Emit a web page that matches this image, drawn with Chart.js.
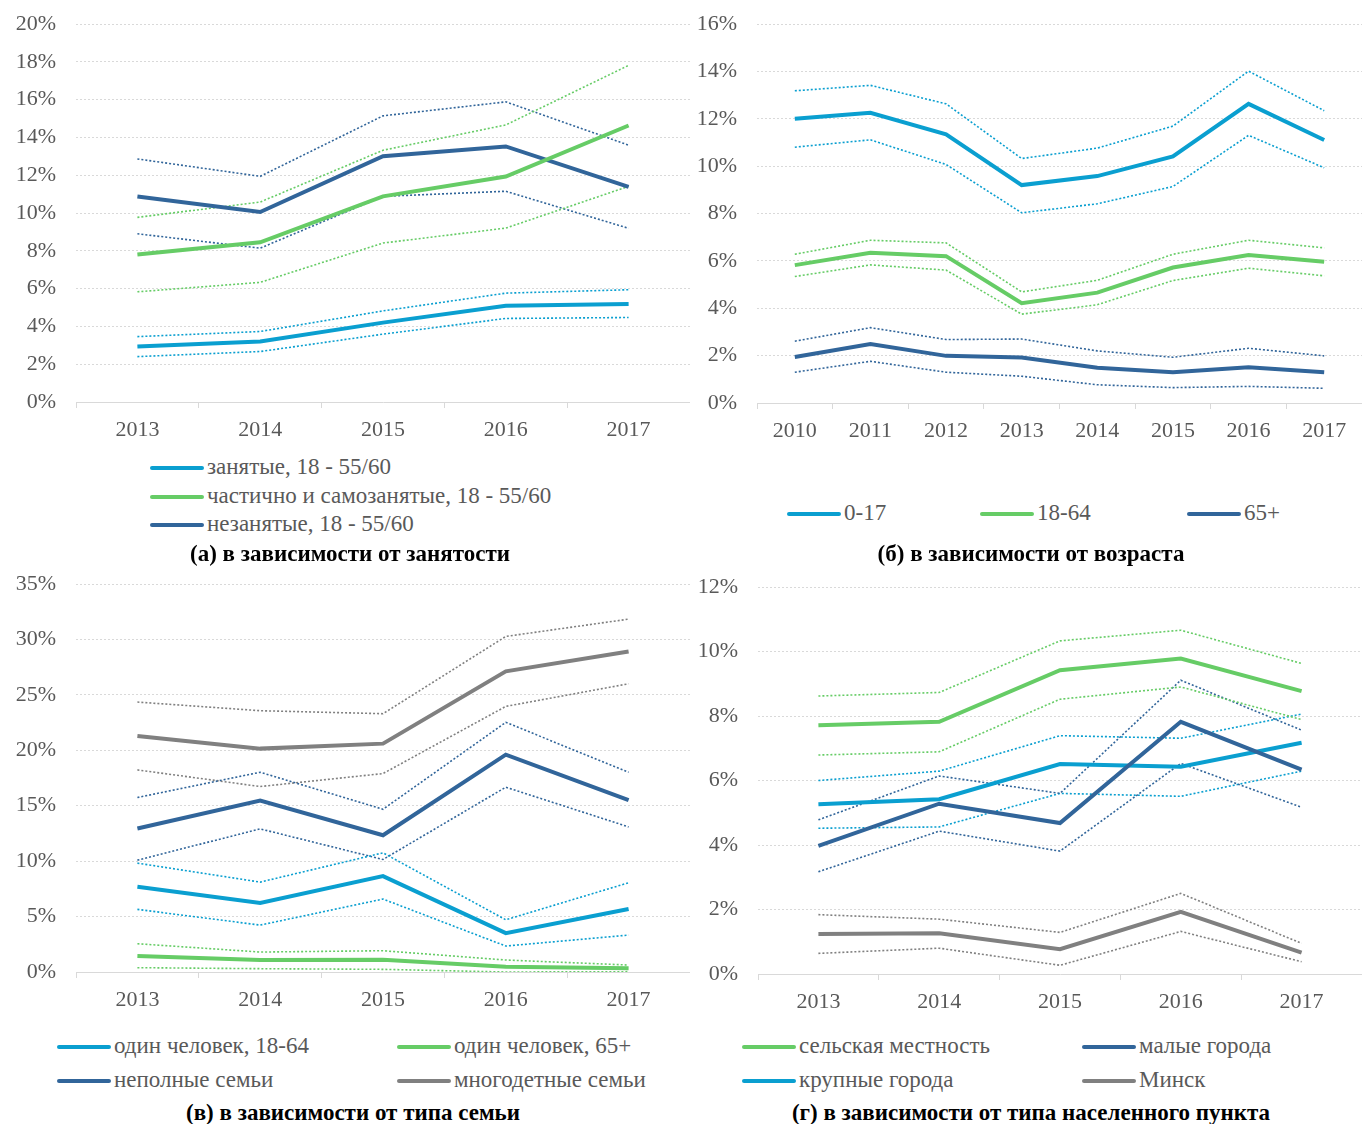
<!DOCTYPE html>
<html>
<head>
<meta charset="utf-8">
<script src="https://cdn.jsdelivr.net/npm/chart.js@4.4.0/dist/chart.umd.min.js"></script>
<style>
body{margin:0;background:#fff;width:1362px;height:1124px;position:relative;overflow:hidden;font-family:'Liberation Serif',serif;}
canvas{position:absolute}
.leg{position:absolute;font-size:23px;color:#595959;white-space:nowrap;line-height:24px;height:24px}
.leg i{display:inline-block;width:54px;height:4px;border-radius:2px;vertical-align:middle;margin-right:3px;position:relative;top:-1px}
.ttl{position:absolute;font-weight:bold;font-size:23px;color:#000;transform:translateX(-50%);white-space:nowrap;line-height:24px}
</style>
</head>
<body>
<canvas id="chA" width="690" height="450" style="left:0;top:0"></canvas>
<canvas id="chB" width="682" height="451" style="left:680px;top:0"></canvas>
<canvas id="chC" width="690" height="460" style="left:0;top:560px"></canvas>
<canvas id="chD" width="682" height="462" style="left:680px;top:560px"></canvas>
<div id="legends"></div>
<div class="ttl" style="left:350px;top:542px">(а) в зависимости от занятости</div>
<div class="ttl" style="left:1031px;top:542px">(б) в зависимости от возраста</div>
<div class="ttl" style="left:353px;top:1101px">(в) в зависимости от типа семьи</div>
<div class="ttl" style="left:1031px;top:1101px">(г) в зависимости от типа населенного пункта</div>
<script>
const LIGHT = '#0a9fd0', GREEN = '#66cc66', DARK = '#31659a', GREY = '#808080';

// (а) занятость
const yearsShort = ['2013', '2014', '2015', '2016', '2017'];
const empMain = [2.93, 3.20, 4.20, 5.09, 5.19];
const empHi = [3.46, 3.73, 4.82, 5.76, 5.94];
const empLo = [2.40, 2.67, 3.59, 4.42, 4.47];
const partMain = [7.81, 8.45, 10.88, 11.93, 14.63];
const partHi = [9.77, 10.58, 13.32, 14.66, 17.81];
const partLo = [5.83, 6.33, 8.41, 9.20, 11.41];
const unempMain = [10.87, 10.05, 13.00, 13.52, 11.38];
const unempHi = [12.86, 11.94, 15.14, 15.88, 13.59];
const unempLo = [8.90, 8.14, 10.88, 11.15, 9.19];

// (б) возраст
const yearsLong = ['2010', '2011', '2012', '2013', '2014', '2015', '2016', '2017'];
const kidsMain = [12.00, 12.25, 11.34, 9.20, 9.58, 10.41, 12.63, 11.10];
const kidsHi = [13.18, 13.41, 12.63, 10.32, 10.76, 11.69, 14.01, 12.34];
const kidsLo = [10.80, 11.11, 10.07, 8.03, 8.41, 9.14, 11.30, 9.93];
const adultMain = [5.82, 6.34, 6.20, 4.21, 4.66, 5.72, 6.25, 5.96];
const adultHi = [6.28, 6.87, 6.76, 4.69, 5.18, 6.28, 6.87, 6.55];
const adultLo = [5.34, 5.83, 5.61, 3.75, 4.15, 5.17, 5.69, 5.37];
const oldMain = [1.94, 2.49, 1.99, 1.92, 1.49, 1.30, 1.51, 1.30];
const oldHi = [2.61, 3.18, 2.68, 2.70, 2.20, 1.93, 2.31, 1.99];
const oldLo = [1.30, 1.76, 1.30, 1.13, 0.77, 0.65, 0.70, 0.62];

// (в) тип семьи
const singleMain = [7.69, 6.22, 8.65, 3.51, 5.68];
const singleHi = [9.82, 8.11, 10.75, 4.71, 8.05];
const singleLo = [5.65, 4.23, 6.58, 2.34, 3.33];
const single65Main = [1.44, 1.08, 1.11, 0.48, 0.33];
const single65Hi = [2.55, 1.80, 1.92, 1.08, 0.63];
const single65Lo = [0.39, 0.30, 0.24, 0.00, 0.03];
const oneParMain = [12.94, 15.47, 12.34, 19.61, 15.50];
const oneParHi = [15.74, 18.02, 14.68, 22.52, 18.02];
const oneParLo = [10.09, 12.91, 10.15, 16.67, 13.09];
const largeMain = [21.29, 20.15, 20.60, 27.12, 28.92];
const largeHi = [24.35, 23.57, 23.30, 30.27, 31.83];
const largeLo = [18.23, 16.73, 17.90, 23.96, 26.00];

// (г) тип населенного пункта
const ruralMain = [7.71, 7.82, 9.42, 9.78, 8.77];
const ruralHi = [8.62, 8.73, 10.33, 10.66, 9.63];
const ruralLo = [6.79, 6.89, 8.52, 8.90, 7.89];
const smallMain = [3.97, 5.28, 4.68, 7.82, 6.34];
const smallHi = [4.78, 6.14, 5.60, 9.11, 7.56];
const smallLo = [3.17, 4.43, 3.81, 6.53, 5.17];
const bigMain = [5.26, 5.42, 6.51, 6.43, 7.17];
const bigHi = [6.00, 6.29, 7.39, 7.31, 8.06];
const bigLo = [4.52, 4.56, 5.60, 5.51, 6.29];
const minskMain = [1.24, 1.26, 0.77, 1.93, 0.66];
const minskHi = [1.84, 1.70, 1.29, 2.50, 0.95];
const minskLo = [0.64, 0.80, 0.27, 1.32, 0.38];

function trio(label, color, main, hi, lo) {
    const ci = {borderColor: color, borderWidth: 1.6, borderDash: [2, 2], pointRadius: 0, fill: false, order: 2};
    return [
        {label: label, data: main, borderColor: color, borderWidth: 4, pointRadius: 0, fill: false, order: 1},
        Object.assign({label: label + ' верх', data: hi}, ci),
        Object.assign({label: label + ' низ', data: lo}, ci),
    ];
}

function panel(id, labels, sets, yMax, step, leftW, padTop) {
    new Chart(document.getElementById(id), {
        type: 'line',
        data: {labels: labels, datasets: sets},
        options: {
            responsive: false,
            animation: false,
            devicePixelRatio: 1,
            layout: {padding: {top: padTop, right: 0, bottom: 0, left: 0}},
            plugins: {legend: {display: false}, tooltip: {enabled: false}},
            scales: {
                x: {
                    offset: true,
                    grid: {display: true, drawOnChartArea: false, drawTicks: true, tickLength: 6, color: '#d9d9d9', offset: true},
                    border: {display: true, color: '#d9d9d9', width: 1},
                    ticks: {color: '#595959', padding: 9, font: {family: 'Liberation Serif', size: 22}},
                    afterFit: s => { s.height = 48; s.paddingLeft = 0; s.paddingRight = 0; }
                },
                y: {
                    min: 0, max: yMax,
                    grid: {color: '#d9d9d9', lineWidth: 1, drawTicks: false},
                    border: {display: false, dash: [2, 2]},
                    ticks: {stepSize: step, color: '#595959', padding: 20, font: {family: 'Liberation Serif', size: 22}, callback: v => v + '%'},
                    afterFit: s => { s.width = leftW; s.paddingTop = 0; s.paddingBottom = 0; }
                }
            }
        }
    });
}

panel('chA', yearsShort, [].concat(
    trio('занятые, 18 - 55/60', LIGHT, empMain, empHi, empLo),
    trio('частично и самозанятые, 18 - 55/60', GREEN, partMain, partHi, partLo),
    trio('незанятые, 18 - 55/60', DARK, unempMain, unempHi, unempLo)
), 20, 2, 76, 24);

panel('chB', yearsLong, [].concat(
    trio('0-17', LIGHT, kidsMain, kidsHi, kidsLo),
    trio('18-64', GREEN, adultMain, adultHi, adultLo),
    trio('65+', DARK, oldMain, oldHi, oldLo)
), 16, 2, 77, 24);

panel('chC', yearsShort, [].concat(
    trio('один человек, 18-64', LIGHT, singleMain, singleHi, singleLo),
    trio('один человек, 65+', GREEN, single65Main, single65Hi, single65Lo),
    trio('неполные семьи', DARK, oneParMain, oneParHi, oneParLo),
    trio('многодетные семьи', GREY, largeMain, largeHi, largeLo)
), 35, 5, 76, 24);

panel('chD', yearsShort, [].concat(
    trio('сельская местность', GREEN, ruralMain, ruralHi, ruralLo),
    trio('малые города', DARK, smallMain, smallHi, smallLo),
    trio('крупные города', LIGHT, bigMain, bigHi, bigLo),
    trio('Минск', GREY, minskMain, minskHi, minskLo)
), 12, 2, 78, 27);

// HTML legends: [label, color, x, y-center]
const legendItems = [
    ['занятые, 18 - 55/60', LIGHT, 150, 467],
    ['частично и самозанятые, 18 - 55/60', GREEN, 150, 496],
    ['незанятые, 18 - 55/60', DARK, 150, 524],
    ['0-17', LIGHT, 787, 513],
    ['18-64', GREEN, 980, 513],
    ['65+', DARK, 1187, 513],
    ['один человек, 18-64', LIGHT, 57, 1046],
    ['один человек, 65+', GREEN, 397, 1046],
    ['неполные семьи', DARK, 57, 1080],
    ['многодетные семьи', GREY, 397, 1080],
    ['сельская местность', GREEN, 742, 1046],
    ['малые города', DARK, 1082, 1046],
    ['крупные города', LIGHT, 742, 1080],
    ['Минск', GREY, 1082, 1080],
];
const legBox = document.getElementById('legends');
legendItems.forEach(([txt, col, x, y]) => {
    const d = document.createElement('div');
    d.className = 'leg';
    d.style.left = x + 'px';
    d.style.top = (y - 12) + 'px';
    d.innerHTML = '<i style="background:' + col + '"></i>' + txt;
    legBox.appendChild(d);
});
</script>
</body>
</html>
